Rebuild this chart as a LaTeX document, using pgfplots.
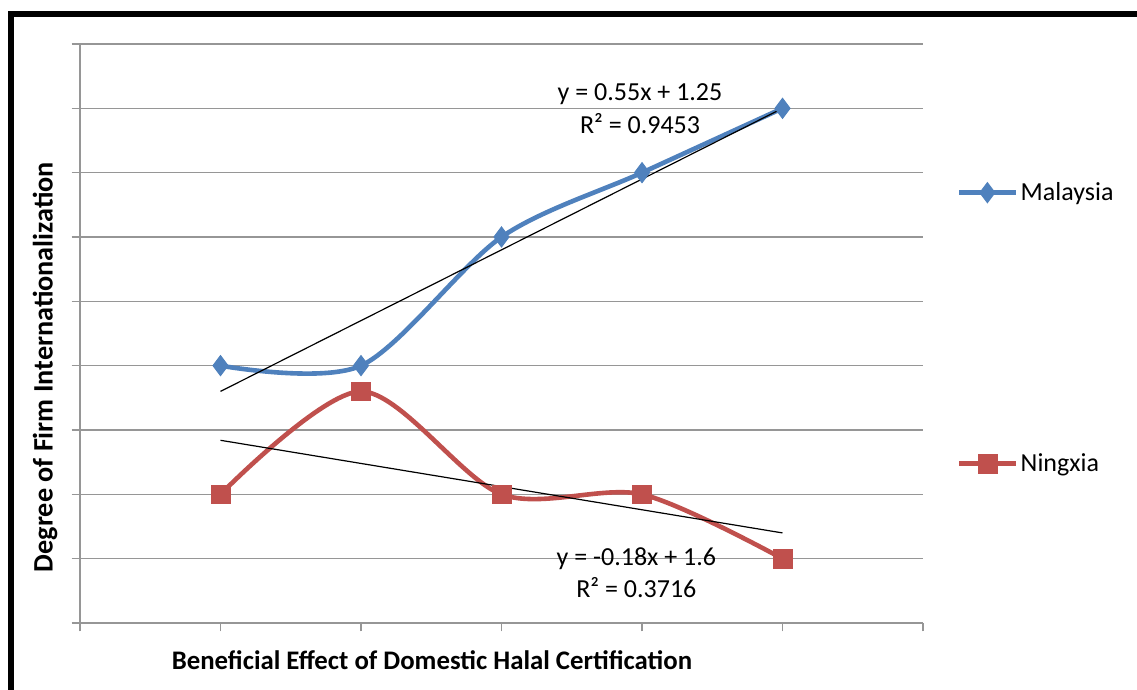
\documentclass[border=0pt]{standalone}
\usepackage{pgfplots}
\pgfplotsset{compat=1.18}
\usepackage{fontspec}
\setmainfont{Carlito}
\definecolor{mblue}{HTML}{4F81BD}
\definecolor{nred}{HTML}{C0504D}
\definecolor{gridc}{HTML}{969696}
\begin{document}
\begin{tikzpicture}
\clip (0,0) rectangle (568.5pt,345pt);
\fill[white] (0,0) rectangle (568.5pt,345pt);
\draw[black, line width=2.6pt] (5.5pt,-20pt) -- (5.5pt,338pt) -- (600pt,338pt);
\begin{axis}[
  at={(40pt,33.5pt)}, anchor=south west,
  scale only axis, width=421.5pt, height=289.5pt,
  xmin=0, xmax=6, ymin=0, ymax=4.5,
  xtick={0,1,2,3,4,5,6}, xticklabels={},
  ytick={0,0.5,1,1.5,2,2.5,3,3.5,4,4.5}, yticklabels={},
  axis x line=bottom, axis y line=left,
  axis line style={-, gridc, line width=0.8pt},
  x axis line style={-}, y axis line style={-},
  ymajorgrids, major grid style={gridc, line width=0.8pt},
  tick style={gridc, line width=0.8pt},
  major tick length=4.2pt,
  xtick align=outside, ytick align=outside,
  xlabel={\bfseries Beneficial Effect of Domestic Halal Certification},
  xlabel style={at={(axis description cs:0,0)}, anchor=center, xshift=176pt, yshift=-18.5pt, font=\fontsize{13.4}{15}\selectfont},
  ylabel={\bfseries Degree of Firm Internationalization},
  ylabel style={at={(axis description cs:0,0.442)}, anchor=center, yshift=17.5pt, font=\fontsize{14.1}{16}\selectfont},
  clip=false,
  legend style={at={(axis description cs:1.04,0.769)}, anchor=north west, draw=none, fill=none,
    row sep=121pt, font=\fontsize{13}{15}\selectfont, inner sep=0pt,
    legend cell align=left, nodes={inner xsep=1.5pt}},
  legend image code/.code={\draw[mark repeat=2,mark phase=2] plot coordinates {(0pt,0pt)(14pt,0pt)(28pt,0pt)};},
]
\addplot[mblue, line width=2.3pt, smooth, tension=0.5, mark=diamond*, mark size=5pt, mark options={solid, line width=0.5pt, fill=mblue}]
  coordinates {(1,2) (2,2) (3,3) (4,3.5) (5,4)};
\addlegendentry{Malaysia}
\addplot[nred, line width=2.3pt, smooth, tension=0.5, mark=square*, mark size=4.7pt, mark options={solid, line width=0.3pt, fill=nred}]
  coordinates {(1,1) (2,1.8) (3,1) (4,1) (5,0.5)};
\addlegendentry{Ningxia}
\addplot[black, line width=0.6pt, forget plot] coordinates {(1,1.8) (5,4.0)};
\addplot[black, line width=0.6pt, forget plot] coordinates {(1,1.42) (5,0.7)};
\node[font=\fontsize{13}{15}\selectfont, inner sep=0pt] at (axis cs:3.986,4.11) {y = 0.55x + 1.25};
\node[font=\fontsize{13}{15}\selectfont, inner sep=0pt] at (axis cs:3.986,3.88) {R² = 0.9453};
\node[font=\fontsize{13}{15}\selectfont, inner sep=0pt] at (axis cs:3.96,0.497) {y = -0.18x + 1.6};
\node[font=\fontsize{13}{15}\selectfont, inner sep=0pt] at (axis cs:3.96,0.272) {R² = 0.3716};
\end{axis}
\end{tikzpicture}
\end{document}
